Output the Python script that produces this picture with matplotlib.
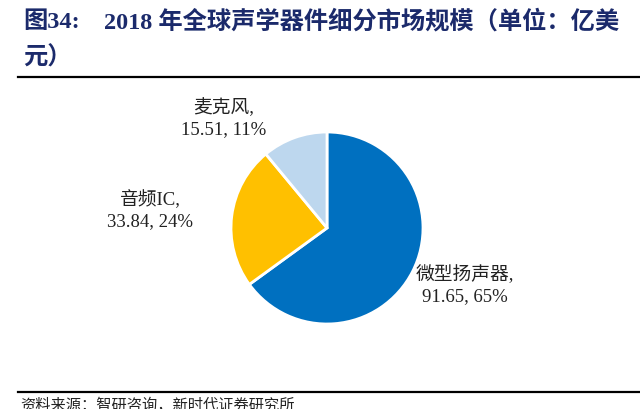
import matplotlib.pyplot as plt

# data
names = ['微型扬声器', '音频IC', '麦克风']
values = [91.65, 33.84, 15.51]
shares = [65, 24, 11]
colors = ['#0070C0', '#FFC000', '#BDD7EE']

title_head = '图34:'
title_line1 = '2018 年全球声学器件细分市场规模（单位：亿美'
title_line2 = '元）'
source = '资料来源：智研咨询，新时代证券研究所'

fam = ['Liberation Serif', 'Noto Sans CJK SC']
navy = '#1B2A6B'

W, H = 640, 410
fig = plt.figure(figsize=(W / 100, H / 100), dpi=100)

# title and rules
tkw = dict(family=fam, fontsize=17.5, fontweight='bold', color=navy,
           va='center', ha='left')
fig.text(23 / W, 1 - 22 / H, title_head, **tkw)
fig.text(104 / W, 1 - 22 / H, title_line1, **tkw)
fig.text(23 / W, 1 - 58 / H, title_line2, **tkw)
fig.add_artist(plt.Line2D([18 / W, 1], [1 - 78 / H] * 2, color='black', lw=1.6))
fig.add_artist(plt.Line2D([18 / W, 1], [1 - 393 / H] * 2, color='black', lw=1.6))
fig.text(20 / W, 1 - 398 / H, source, family=fam, fontsize=11,
         color='#222222', va='top', ha='left')

# pie: centre (327, 229) px, radius 96 px
cx, cy, r = 327, 229, 96
ax = fig.add_axes([(cx - r) / W, (H - cy - r) / H, 2 * r / W, 2 * r / H])
ax.pie(values, colors=colors, startangle=90, counterclock=False, radius=1,
       wedgeprops=dict(edgecolor='white', linewidth=2))
ax.set_xlim(-1, 1)
ax.set_ylim(-1, 1)
ax.axis('off')

label_pos = [(465, 285), (150, 210), (224, 118)]
for (px, py), n, v, s in zip(label_pos, names, values, shares):
    ax.text((px - cx) / r, (cy - py) / r, f'{n},\n{v:.2f}, {s}%',
            family=fam, fontsize=13.5, color='#222222', ha='center',
            va='center', linespacing=1.3, clip_on=False)

fig.savefig('out.png', dpi=100)
